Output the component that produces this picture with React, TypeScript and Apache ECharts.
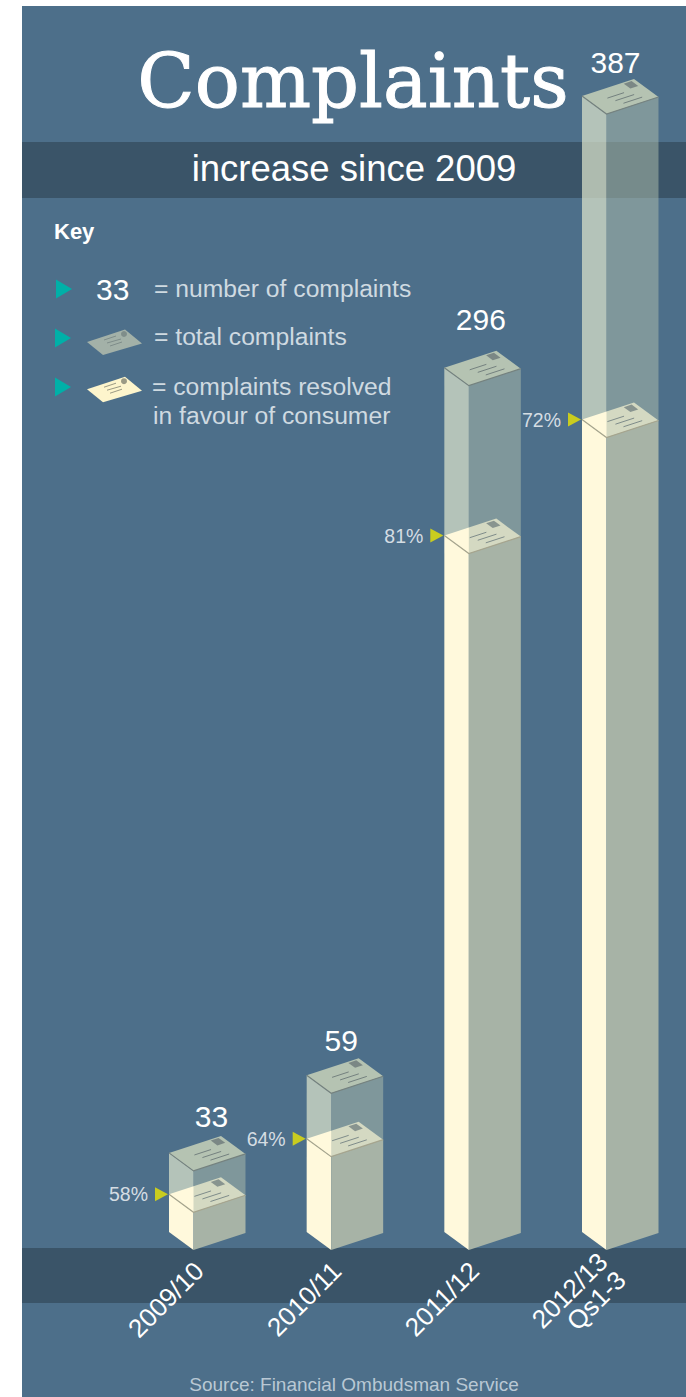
import React, { useEffect, useRef } from "react";
import * as echarts from "echarts";

const categories = ["2009/10", "2010/11", "2011/12", "2012/13\nQs1-3"];
const totalComplaints = [33, 59, 296, 387];
const resolvedPercent = [58, 64, 81, 72];

const titleText = "Complaints";
const subtitleText = "increase since 2009";
const keyHeading = "Key";
const keySample = "33";
const keyNumber = "= number of complaints";
const keyTotal = "= total complaints";
const keyResolved = ["= complaints resolved", "in favour of consumer"];
const sourceText = "Source: Financial Ombudsman Service";

const SANS = '"Liberation Sans", Arial, sans-serif';
const PANEL = "#4d6f8a";
const BAND = "#3a5468";
const CREAM = "#fff9dc";
const KEY_TEXT = "#cfdae1";

// Isometric box: offsets from the front vertex of each box.
const LEFT = [-24.5, -18];
const RIGHT = [52, -17];
const BACK = [27.5, -35];

// Hand placement of the total labels above each box.
const totalLabelShift = [
  [18, -54],
  [10, -53],
  [12, -66],
  [9, -52],
];

const add = (p: number[], d: number[]) => [p[0] + d[0], p[1] + d[1]];

// Point on a top face, a along the right edge and b along the left edge.
const onFace = (f: number[], a: number, b: number) => [
  f[0] + a * RIGHT[0] + b * LEFT[0],
  f[1] + a * RIGHT[1] + b * LEFT[1],
];

function envelope(f: number[], edge: string, mark: string, fill: string | null) {
  const children: any[] = [];
  if (fill) {
    children.push({
      type: "polygon",
      shape: { points: [f, add(f, RIGHT), add(f, BACK), add(f, LEFT)] },
      style: { fill },
    });
  }
  children.push({
    type: "polyline",
    shape: { points: [add(f, LEFT), f, add(f, RIGHT)] },
    style: { stroke: edge, lineWidth: 1.2, fill: "none" },
  });
  children.push({
    type: "polygon",
    shape: {
      points: [onFace(f, 0.78, 0.68), onFace(f, 0.93, 0.68), onFace(f, 0.93, 0.95), onFace(f, 0.78, 0.95)],
    },
    style: { fill: mark, opacity: 0.9 },
  });
  const rows = [
    [0.3, 0.62, 0.6],
    [0.36, 0.72, 0.4],
    [0.42, 0.78, 0.2],
  ];
  rows.forEach(([a0, a1, b]) => {
    const p = onFace(f, a0, b);
    const q = onFace(f, a1, b);
    children.push({
      type: "line",
      shape: { x1: p[0], y1: p[1], x2: q[0], y2: q[1] },
      style: { stroke: mark, lineWidth: 1 },
    });
  });
  return children;
}

const renderBox = (params: any, api: any) => {
  const index = api.value(0);
  const total = api.value(1);
  const pct = api.value(2);
  const centre = api.coord([index, total])[0];
  const fx = centre - 14;
  const top = [fx, api.coord([index, total])[1]];
  const level = [fx, api.coord([index, (total * pct) / 100])[1]];
  const base = [fx, api.coord([index, 6.5])[1]];

  const face = (lowA: number[], highA: number[], d: number[]) => [lowA, highA, add(highA, d), add(lowA, d)];
  const shape = (points: number[][], fill: string) => ({ type: "polygon", shape: { points }, style: { fill } });

  const tip = add(level, LEFT);
  const shift = totalLabelShift[index];
  const children: any[] = [
    // Upper translucent faces and the top envelope
    shape(face(level, top, LEFT), "rgba(223,231,205,0.7)"),
    // Resolved level seen through the box
    shape([level, add(level, RIGHT), add(level, BACK), add(level, LEFT)], CREAM),
    shape(face(level, top, RIGHT), "rgba(174,189,172,0.525)"),
    // Solid lower faces
    shape(face(base, level, LEFT), CREAM),
    shape(face(base, level, RIGHT), "#a7b3a6"),
    ...envelope(level, "#a6a58e", "#7f8c8a", null),
    ...envelope(top, "#75827f", "#74817f", "#b5c3b2"),
    {
      type: "polygon",
      shape: { points: [[tip[0] - 1, tip[1]], [tip[0] - 14, tip[1] - 7], [tip[0] - 14, tip[1] + 7]] },
      style: { fill: "#c9cc1f" },
    },
    {
      type: "text",
      style: {
        text: pct + "%",
        x: tip[0] - 21,
        y: tip[1],
        align: "right",
        verticalAlign: "middle",
        fill: "#d5dde3",
        font: `19.5px ${SANS}`,
      },
    },
    {
      type: "text",
      style: {
        text: String(total),
        x: fx + shift[0],
        y: top[1] + shift[1],
        align: "center",
        verticalAlign: "middle",
        fill: "#ffffff",
        font: `30px ${SANS}`,
      },
    },
  ];
  return { type: "group", children };
};

const keyText = (text: string, x: number, y: number, size = 24.7, fill = KEY_TEXT, weight = "normal") => ({
  type: "text",
  x,
  y,
  style: { text, fill, font: `${weight} ${size}px ${SANS}`, verticalAlign: "middle" },
});

const triangle = (x: number, y: number) => ({
  type: "polygon",
  shape: { points: [[x, y - 9.5], [x + 16, y], [x, y + 9.5]] },
  style: { fill: "#00b0a8" },
});

const keyEnvelope = (dy: number, fill: string, mark: string) => ({
  type: "group",
  y: dy,
  children: [
    { type: "polygon", shape: { points: [[87, 342], [125, 329.5], [142, 343.5], [103, 355]] }, style: { fill } },
    { type: "circle", shape: { cx: 124, cy: 334, r: 3 }, style: { fill: mark } },
    { type: "line", shape: { x1: 104, y1: 340, x2: 116, y2: 336 }, style: { stroke: mark, lineWidth: 1 } },
    { type: "line", shape: { x1: 107, y1: 343, x2: 121, y2: 339 }, style: { stroke: mark, lineWidth: 1 } },
    { type: "line", shape: { x1: 110, y1: 346, x2: 122, y2: 342 }, style: { stroke: mark, lineWidth: 1 } },
  ],
});

export default function App() {
  const ref = useRef<HTMLDivElement>(null);

  useEffect(() => {
    const chart = echarts.init(ref.current!, null, { renderer: "svg" });
    chart.setOption({
      animation: false,
      backgroundColor: "#ffffff",
      grid: { left: 207.5, width: 413, top: 114, bottom: 147 },
      xAxis: {
        type: "category",
        data: categories,
        boundaryGap: false,
        axisLine: { show: false },
        axisTick: { show: false },
        splitLine: { show: false },
        axisLabel: {
          interval: 0,
          hideOverlap: false,
          rotate: 45,
          margin: 8,
          padding: [0, 12, 0, 0],
          color: "#ffffff",
          fontFamily: SANS,
          fontSize: 26,
          lineHeight: 26,
        },
      },
      yAxis: { type: "value", min: 6.5, max: 387, show: false },
      graphic: [
        { type: "rect", z: -5, shape: { x: 22, y: 6, width: 664, height: 1391 }, style: { fill: PANEL } },
        { type: "rect", z: -4, shape: { x: 22, y: 142, width: 664, height: 56 }, style: { fill: BAND } },
        { type: "rect", z: -4, shape: { x: 22, y: 1248, width: 664, height: 55 }, style: { fill: BAND } },
        {
          type: "text",
          x: 354,
          y: 168,
          style: {
            text: subtitleText,
            fill: "#ffffff",
            font: `36.5px ${SANS}`,
            align: "center",
            verticalAlign: "middle",
          },
        },
        keyText(keyHeading, 54, 231, 22, "#ffffff", "bold"),
        triangle(56, 289),
        keyText(keySample, 96, 289, 30, "#ffffff"),
        keyText(keyNumber, 154, 288),
        triangle(55, 338),
        keyEnvelope(0, "#a3b1a8", "#7f8d8a"),
        keyText(keyTotal, 154, 336),
        triangle(55, 387),
        keyEnvelope(47.2, "#fdf5cc", "#9b9a84"),
        keyText(keyResolved[0], 152, 386),
        keyText(keyResolved[1], 153, 415),
        {
          type: "text",
          x: 354,
          y: 1384,
          style: {
            text: sourceText,
            fill: "#b9c8d4",
            font: `19px ${SANS}`,
            align: "center",
            verticalAlign: "middle",
          },
        },
        {
          type: "text",
          x: 353,
          y: 81,
          style: {
            text: titleText,
            fill: "#ffffff",
            stroke: "#ffffff",
            lineWidth: 1,
            font: `75px "DejaVu Serif", serif`,
            align: "center",
            verticalAlign: "middle",
          },
        },
      ],
      series: [
        {
          type: "custom",
          coordinateSystem: "cartesian2d",
          renderItem: renderBox,
          encode: { x: 0, y: 1 },
          data: categories.map((_, i) => [i, totalComplaints[i], resolvedPercent[i]]),
        },
      ],
    });
    return () => chart.dispose();
  }, []);

  return <div ref={ref} style={{ position: "absolute", left: 0, top: 0, width: 686, height: 1397 }} />;
}
